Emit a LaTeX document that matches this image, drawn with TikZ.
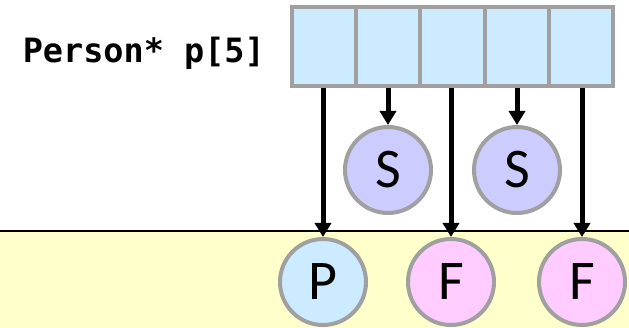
\documentclass[tikz,border=0pt]{standalone}
\usepackage{fontspec}
\newfontfamily\codefont{DejaVu Sans Mono}
\newfontfamily\letterfont{Carlito}
\usetikzlibrary{arrows.meta,positioning}
\definecolor{cellblue}{HTML}{CCEBFF}
\definecolor{lavender}{HTML}{CCCCFF}
\definecolor{pinkish}{HTML}{FFCCFF}
\definecolor{paleyellow}{HTML}{FFFFCC}
\definecolor{rim}{HTML}{A0A0A0}

\begin{document}
\begin{tikzpicture}[x=1pt,y=-1pt,>={Triangle[length=14pt,width=16pt]},
cell/.style = {draw=rim, line width=4pt, fill=cellblue, minimum width=64.2pt, minimum height=79pt, inner sep=0pt, outer sep=0pt},
obj/.style = {draw=rim, circle, line width=4pt, minimum size=86pt, inner sep=0pt, font=\letterfont\fontsize{56}{56}\selectfont},
ptr/.style = {->, line width=5pt, shorten <=2pt},]
\useasboundingbox (0,0) rectangle (629,328);
\fill[paleyellow] (0,231) rectangle (629,328);
\draw[line width=2pt] (0,231) -- (629,231);
\node (label) at (265,63)[anchor=base east, inner sep=0pt, font=\codefont\bfseries\fontsize{33.5}{33.5}\selectfont] {Person* p[5]};
\foreach \i in {1,...,5}
  \node (cell\i) at ({292+32.1+64.2*(\i-1)},46.5)[cell] {};
\node (s2) at (388,170)[obj, fill=lavender] {S};
\node (s4) at (517,170)[obj, fill=lavender] {S};
\node (p1) at (323,282)[obj, fill=cellblue] {P};
\node (f3) at (451,282)[obj, fill=pinkish] {F};
\node (f5) at (582,282)[obj, fill=pinkish] {F};
\draw[ptr] (p1 |- cell1.south) --(p1.north);
\draw[ptr] (s2 |- cell2.south) --(s2.north);
\draw[ptr] (f3 |- cell3.south) --(f3.north);
\draw[ptr] (s4 |- cell4.south) --(s4.north);
\draw[ptr] (f5 |- cell5.south) --(f5.north);
\end{tikzpicture}
\end{document}
